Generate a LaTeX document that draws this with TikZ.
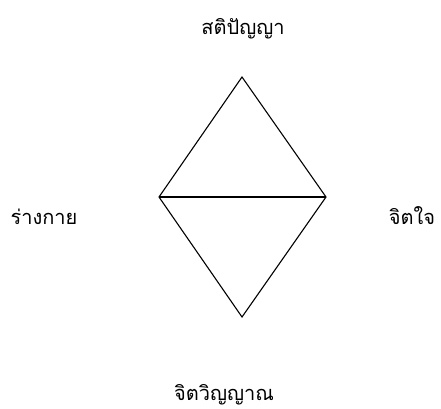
\documentclass[tikz,border=0pt]{standalone}
\usepackage{fontspec}
\newfontfamily\thaifont[Script=Thai]{Loma}
\usepackage{tikz}
\usetikzlibrary{positioning}

\tikzset{
  lbl/.style={font=\thaifont\fontsize{20}{24}\selectfont, inner sep=0pt, anchor=base},
  edge/.style={line width=1.1pt, line join=miter}
}

\begin{document}
\begin{tikzpicture}[x=1pt,y=-1pt]
    \useasboundingbox (0,0) rectangle (441,408);

    % Corners of the diamond
    \coordinate (apex) at (242,77);
    \coordinate (west) at (159,197);
    \coordinate (east) at (326,197);
    \coordinate (nadir) at (242,317);

    % Diamond and its middle line
    \draw[edge] (apex) -- (east) -- (nadir) -- (west) -- cycle;
    \draw[edge] (west) -- (east);

    % Labels round the diamond
    \node[lbl] (wisdom) at (243,34) {สติปัญญา};
    \node[lbl] (body) at (44,224) {ร่างกาย};
    \node[lbl] (mind) at (412,224) {จิตใจ};
    \node[lbl] (spirit) at (224,400) {จิตวิญญาณ};
\end{tikzpicture}
\end{document}
